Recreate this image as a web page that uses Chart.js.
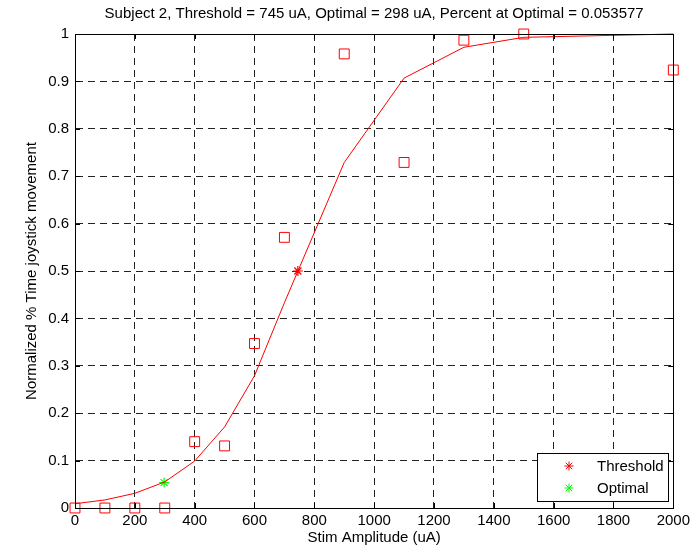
<!DOCTYPE html>
<html>
<head>
<meta charset="utf-8">
<script src="https://cdn.jsdelivr.net/npm/chart.js@4.4.1/dist/chart.umd.min.js"></script>
<style>
  html, body { margin: 0; padding: 0; background: #fff; }
  canvas { display: block; }
</style>
</head>
<body>
<canvas id="myChart" width="694" height="546"></canvas>
<script>
// stimulation amplitudes (uA) that were tested
const stimAmps = [0, 100, 200, 300, 400, 500, 600, 700, 900, 1100, 1300, 1500, 2000];
// measured normalized % time of joystick movement
const observed = [0, 0, 0, 0, 0.14, 0.131, 0.347, 0.571, 0.958, 0.729, 0.987, 1.0, 0.924];
// fitted sigmoid evaluated at the same amplitudes
const fitted = [0.009, 0.017, 0.031, 0.055, 0.099, 0.171, 0.279, 0.433, 0.729, 0.907, 0.972, 0.993, 1.0];
const thresholdPoint = [745, 0.5];
const optimalPoint = [298, 0.053577];
const xTicks = [0, 200, 400, 600, 800, 1000, 1200, 1400, 1600, 1800, 2000];
const yTicks = [0, 0.1, 0.2, 0.3, 0.4, 0.5, 0.6, 0.7, 0.8, 0.9, 1];

const FONT = "'Liberation Sans', Arial, sans-serif";
const FSIZE = 15;

// MATLAB-ish frame, inward ticks and legend box
const matlabFrame = {
  id: 'matlabFrame',
  beforeDraw(chart) {
    const ctx = chart.ctx;
    ctx.save();
    ctx.fillStyle = '#fff';
    ctx.fillRect(0, 0, chart.width, chart.height);
    ctx.restore();
  },
  afterDraw(chart) {
    const { ctx, chartArea: a, scales } = chart;
    ctx.save();
    ctx.strokeStyle = '#000';
    ctx.lineWidth = 1;
    ctx.strokeRect(Math.round(a.left) + 0.5, Math.round(a.top) + 0.5,
      Math.round(a.right - a.left), Math.round(a.bottom - a.top));

    const tl = 5;
    ctx.beginPath();
    xTicks.forEach(v => {
      const px = Math.round(scales.x.getPixelForValue(v)) + 0.5;
      ctx.moveTo(px, a.bottom); ctx.lineTo(px, a.bottom - tl);
      ctx.moveTo(px, a.top); ctx.lineTo(px, a.top + tl);
    });
    yTicks.forEach(v => {
      const py = Math.round(scales.y.getPixelForValue(v)) + 0.5;
      ctx.moveTo(a.left, py); ctx.lineTo(a.left + tl, py);
      ctx.moveTo(a.right, py); ctx.lineTo(a.right - tl, py);
    });
    ctx.stroke();

    // legend
    const bx = 537.5, by = 453.5, bw = 131, bh = 48;
    ctx.fillStyle = '#fff';
    ctx.fillRect(bx, by, bw, bh);
    ctx.strokeRect(bx, by, bw, bh);
    const entries = [chart.data.datasets[2], chart.data.datasets[3]];
    ctx.font = FSIZE + 'px ' + FONT;
    ctx.textBaseline = 'middle';
    entries.forEach((ds, i) => {
      const cy = 466 + i * 22;
      ctx.strokeStyle = ds.borderColor;
      const r = 4.5;
      ctx.beginPath();
      ctx.moveTo(569 - r, cy); ctx.lineTo(569 + r, cy);
      ctx.moveTo(569, cy - r); ctx.lineTo(569, cy + r);
      const d = r * 0.707;
      ctx.moveTo(569 - d, cy - d); ctx.lineTo(569 + d, cy + d);
      ctx.moveTo(569 - d, cy + d); ctx.lineTo(569 + d, cy - d);
      ctx.stroke();
      ctx.fillStyle = '#000';
      ctx.fillText(ds.label, 597, cy + 1);
    });
    ctx.restore();
  }
};

const ctx = document.getElementById('myChart').getContext('2d');
new Chart(ctx, {
  type: 'scatter',
  data: {
    datasets: [
      {
        label: 'Fit',
        data: stimAmps.map((x, i) => ({ x, y: fitted[i] })),
        showLine: true,
        borderColor: '#ff0000',
        borderWidth: 1,
        pointRadius: 0,
        clip: false
      },
      {
        label: 'Data',
        data: stimAmps.map((x, i) => ({ x, y: observed[i] })),
        pointStyle: 'rect',
        pointRadius: 7,
        borderColor: '#ff0000',
        backgroundColor: 'rgba(0,0,0,0)',
        borderWidth: 1,
        clip: false
      },
      {
        label: 'Threshold',
        data: [{ x: thresholdPoint[0], y: thresholdPoint[1] }],
        pointStyle: 'star',
        pointRadius: 5,
        borderColor: '#ff0000',
        backgroundColor: '#ff0000',
        borderWidth: 1.2
      },
      {
        label: 'Optimal',
        data: [{ x: optimalPoint[0], y: optimalPoint[1] }],
        pointStyle: 'star',
        pointRadius: 5,
        borderColor: '#00ff00',
        backgroundColor: '#00ff00',
        borderWidth: 1.2
      }
    ]
  },
  options: {
    responsive: false,
    animation: false,
    layout: { padding: { left: 0, right: 19, top: 0, bottom: 0 } },
    plugins: {
      legend: { display: false },
      tooltip: { enabled: false },
      title: {
        display: true,
        fullSize: false,
        text: 'Subject 2, Threshold = 745 uA, Optimal = 298 uA, Percent at Optimal = 0.053577',
        color: '#000',
        font: { family: FONT, size: FSIZE, weight: 'normal' },
        padding: { top: 5, bottom: 11 }
      }
    },
    scales: {
      x: {
        type: 'linear',
        min: 0,
        max: 2000,
        afterBuildTicks: s => { s.ticks = xTicks.map(v => ({ value: v })); },
        afterFit: s => { s.height = 38; },
        ticks: {
          autoSkip: false,
          maxRotation: 0,
          padding: 4,
          color: '#000',
          font: { family: FONT, size: FSIZE },
          callback: v => String(v)
        },
        grid: { color: '#222', lineWidth: 1, drawTicks: false },
        border: { display: true, color: '#000', dash: [7, 5] },
        title: {
          display: true,
          text: 'Stim Amplitude (uA)',
          color: '#000',
          font: { family: FONT, size: FSIZE },
          padding: { top: 0, bottom: -1 }
        }
      },
      y: {
        type: 'linear',
        min: 0,
        max: 1,
        afterBuildTicks: s => { s.ticks = yTicks.map(v => ({ value: v })); },
        afterFit: s => { s.width = 75; },
        ticks: {
          autoSkip: false,
          padding: 6,
          color: '#000',
          font: { family: FONT, size: FSIZE },
          callback: v => String(Math.round(v * 10) / 10)
        },
        grid: { color: '#222', lineWidth: 1, drawTicks: false },
        border: { display: true, color: '#000', dash: [7, 5] },
        title: {
          display: true,
          text: 'Normalized % Time joystick movement',
          color: '#000',
          font: { family: FONT, size: FSIZE },
          padding: { top: 23, bottom: 0 }
        }
      }
    }
  },
  plugins: [matlabFrame]
});
</script>
</body>
</html>
